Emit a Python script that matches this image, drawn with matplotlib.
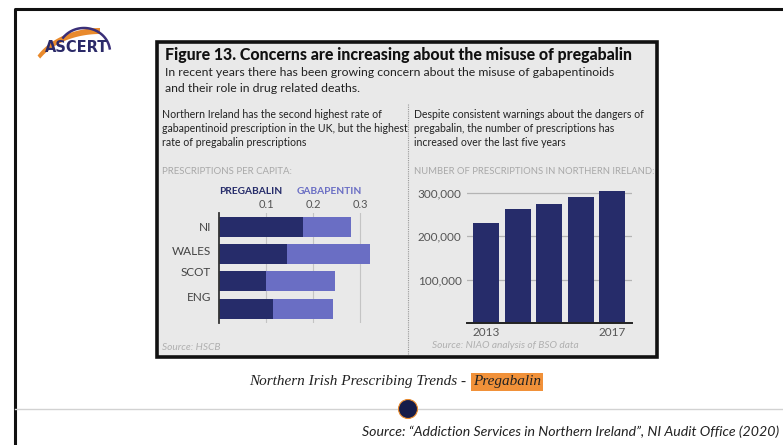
import numpy as np
import matplotlib
matplotlib.use('Agg')
import matplotlib.pyplot as plt
from matplotlib.patches import Rectangle, Circle
from matplotlib.transforms import blended_transform_factory, offset_copy

# prescriptions per capita (left chart)
countries = ['NI', 'WALES', 'SCOT', 'ENG']
pregabalin = [0.179, 0.145, 0.100, 0.115]
gabapentin = [0.102, 0.176, 0.147, 0.128]
capita_ticks = [0.1, 0.2, 0.3]

# number of prescriptions in NI (right chart)
years = [2013, 2014, 2015, 2016, 2017]
prescriptions = [231000, 263000, 275000, 291000, 305000]
count_ticks = [100000, 200000, 300000]

NAVY = '#262c6a'
PERI = '#6a6ec4'
PANEL = '#e9e9e9'
FONT = 'Lato'

W, H = 783, 445
fig = plt.figure(figsize=(W / 100, H / 100), dpi=100)

# background layer in pixel coords
bg = fig.add_axes([0, 0, 1, 1])
bg.set_xlim(0, W)
bg.set_ylim(H, 0)
bg.axis('off')


def box(x0, y0, x1, y1):
    return [x0 / W, 1 - y1 / H, (x1 - x0) / W, (y1 - y0) / H]


# slide frame
bg.plot([15, 15, W], [H, 8.5, 8.5], color='#111', lw=2.2, solid_capstyle='butt')

# logo
t = np.linspace(0.5 * np.pi, 2.62, 60)
bg.fill(np.r_[100 + 72 * np.cos(t), (100 + 69 * np.cos(t))[::-1]],
        np.r_[83 - 55 * np.sin(t), (83 - 49 * np.sin(t))[::-1]],
        color='#e98a2c', lw=0)
t2 = np.linspace(0.15, 2.5, 60)
bg.plot(84 + 26 * np.cos(t2), 52 - 24 * np.sin(t2), color='#3a2f78', lw=1.8)
bg.text(45, 47, 'ASCERT', fontsize=10.5, fontweight='heavy', color='#2b2a68',
        va='center', ha='left', family='DejaVu Sans')

# figure panel
bg.add_patch(Rectangle((157, 42), 500, 315, fc=PANEL, ec='#111', lw=2.6))
bg.text(165, 55, 'Figure 13. Concerns are increasing about the misuse of pregabalin',
        fontsize=11.4, fontweight='black', family=FONT, color='#111', va='center')
bg.text(165, 73, 'In recent years there has been growing concern about the misuse of gabapentinoids',
        fontsize=8.8, family=FONT, color='#222', va='center')
bg.text(165, 89, 'and their role in drug related deaths.',
        fontsize=8.8, family=FONT, color='#222', va='center')

left_lines = ['Northern Ireland has the second highest rate of',
              'gabapentinoid prescription in the UK, but the highest',
              'rate of pregabalin prescriptions']
right_lines = ['Despite consistent warnings about the dangers of',
               'pregabalin, the number of prescriptions has',
               'increased over the last five years']
for i, (a, b) in enumerate(zip(left_lines, right_lines)):
    bg.text(162, 114 + 14 * i, a, fontsize=7.6, family=FONT, color='#222', va='center')
    bg.text(414, 114 + 14 * i, b, fontsize=7.6, family=FONT, color='#222', va='center')

bg.plot([408, 408], [104, 355], color='#9a9a9a', lw=0.8, ls=(0, (1, 1)))

bg.text(162, 172, 'PRESCRIPTIONS PER CAPITA:', fontsize=6.9, family=FONT, color='#a8a8a8', va='center')
bg.text(414, 172, 'NUMBER OF PRESCRIPTIONS IN NORTHERN IRELAND:', fontsize=6.8, family=FONT,
        color='#a8a8a8', va='center')
bg.text(219, 191, 'PREGABALIN', fontsize=7.3, fontweight='bold', family=FONT, color=NAVY, va='center')
bg.text(297, 191, 'GABAPENTIN', fontsize=7.3, fontweight='bold', family=FONT, color=PERI, va='center')
bg.text(162, 347, 'Source: HSCB', fontsize=7.3, style='italic', family=FONT, color='#b0b0b0', va='center')
bg.text(432, 346, 'Source: NIAO analysis of BSO data', fontsize=7.3, style='italic', family=FONT,
        color='#b0b0b0', va='center')

# left chart: stacked horizontal bars
ax1 = fig.add_axes(box(219, 213, 379, 323))
ax1.set_facecolor('none')
pos = np.arange(len(countries))
ax1.barh(pos, pregabalin, height=0.735, color=NAVY, zorder=2)
ax1.barh(pos, gabapentin, left=pregabalin, height=0.735, color=PERI, zorder=2)
ax1.set_xlim(0, 0.34)
ax1.set_ylim(3.53, -0.515)
ax1.xaxis.tick_top()
ax1.set_xticks(capita_ticks)
ax1.set_xticklabels([f'{v:.1f}' for v in capita_ticks])
ax1.grid(axis='x', color='#c4c4c4', lw=0.8)
ax1.set_axisbelow(True)
ax1.tick_params(length=0, labelsize=8, labelcolor='#555', pad=2)
for lab in ax1.get_xticklabels():
    lab.set_family(FONT)
ax1.set_yticks([])
for s in ['top', 'right', 'bottom']:
    ax1.spines[s].set_visible(False)
ax1.spines['left'].set_color('#333')
ax1.spines['left'].set_linewidth(1.3)
label_shift = [0, 3, 9, 11]
tr = blended_transform_factory(ax1.transAxes, ax1.transData)
for i, name in enumerate(countries):
    ax1.text(-0.05, i, name, transform=offset_copy(tr, fig=fig, y=label_shift[i], units='dots'),
             ha='right', va='center', fontsize=8.5, family=FONT, color='#444')

# right chart: vertical bars
ax2 = fig.add_axes(box(467, 180, 632, 323))
ax2.set_facecolor('none')
ax2.bar(np.arange(len(years)), prescriptions, width=0.82, color=NAVY, zorder=2)
ax2.set_xlim(-0.6, 4.62)
ax2.set_ylim(0, 330000)
ax2.set_yticks(count_ticks)
ax2.set_yticklabels([f'{v:,}' for v in count_ticks])
ax2.set_xticks([0, len(years) - 1])
ax2.set_xticklabels([str(years[0]), str(years[-1])])
ax2.grid(axis='y', color='#b4b4b4', lw=0.9)
ax2.set_axisbelow(True)
ax2.tick_params(length=0, labelsize=8.5, labelcolor='#555')
ax2.tick_params(axis='x', pad=3)
ax2.tick_params(axis='y', pad=4)
for lab in ax2.get_xticklabels() + ax2.get_yticklabels():
    lab.set_family(FONT)
for s in ['top', 'right', 'left']:
    ax2.spines[s].set_visible(False)
ax2.spines['bottom'].set_color('#222')
ax2.spines['bottom'].set_linewidth(1.4)

# caption
cap = bg.text(249, 382, 'Northern Irish Prescribing Trends - ', fontsize=11, style='italic',
              family='Liberation Serif', color='#222', va='center')
fig.canvas.draw()
ext = cap.get_window_extent()
x_end = bg.transData.inverted().transform((ext.x1, ext.y0))[0]
bg.text(x_end + 3, 382, 'Pregabalin', fontsize=11, style='italic', family='Liberation Serif',
        color='#222', va='center',
        bbox=dict(boxstyle='square,pad=0.15', fc='#f19139', ec='none'))

# footer
bg.plot([15, W], [409, 409], color='#d2d2d2', lw=1)
bg.add_patch(Circle((408, 409), 9.5, fc='#151c4a', ec='#e98a2c', lw=0.8, zorder=3))
bg.text(779, 432, 'Source: \u201cAddiction Services in Northern Ireland\u201d, NI Audit Office (2020)',
        fontsize=10.2, style='italic', family=FONT, color='#222', ha='right', va='center')

fig.savefig('out.png', dpi=100)
